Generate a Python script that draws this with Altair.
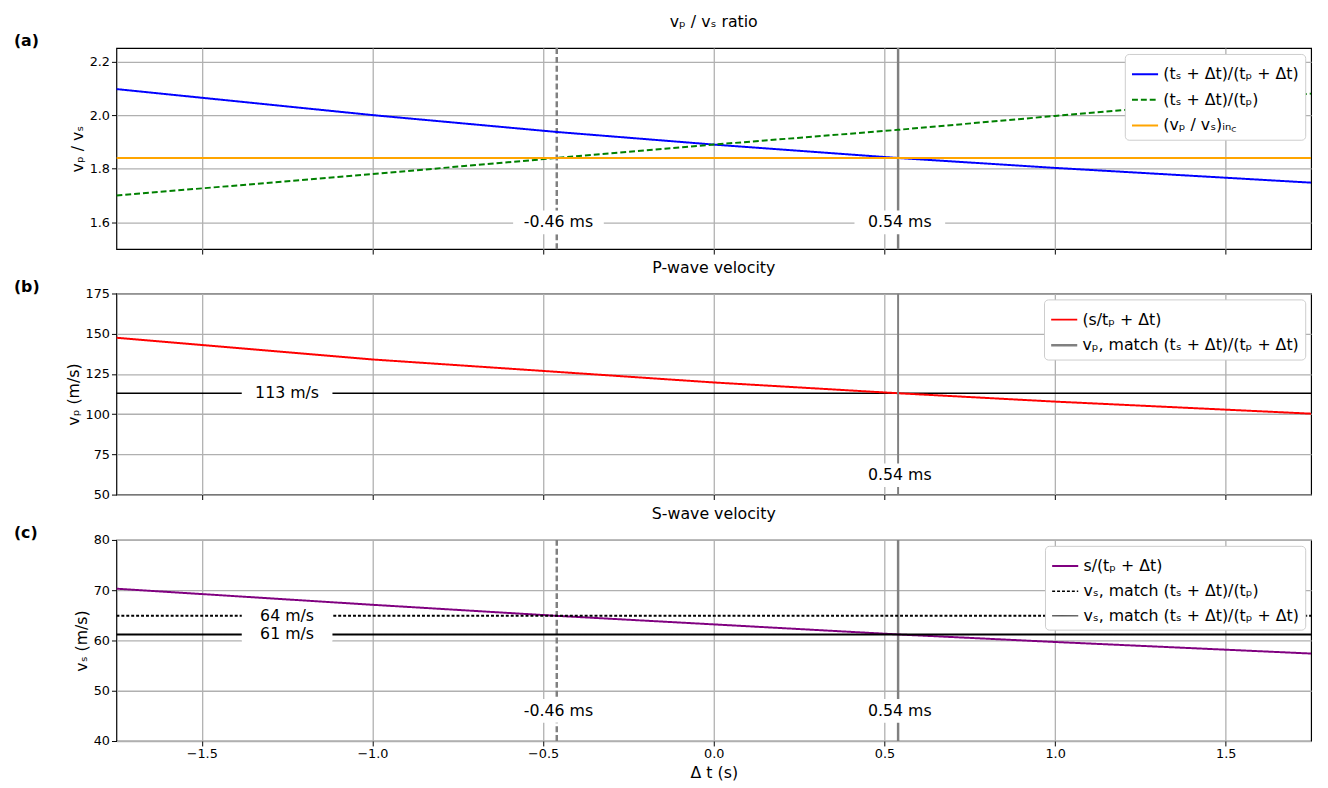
import altair as alt
import pandas as pd

X_RANGE = [-1.75, 1.75]
dt_pts = [-1.75, -1.0, -0.46, 0.0, 0.54, 1.0, 1.75]

# panel (a)
a_names = ["(tₛ + Δt)/(tₚ + Δt)", "(tₛ + Δt)/(tₚ)", "(vₚ / vₛ)ᵢₙ꜀"]
a_colors = ["#0000ff", "#008000", "#ffa500"]
a_dash = [[1, 0], [6, 3], [1, 0]]
a_vals = [
    [2.097, 2.0, 1.937, 1.89, 1.84, 1.803, 1.748],
    [1.70, 1.78, 1.84, 1.89, 1.945, 1.997, 2.08],
    [1.84, 1.84, 1.84, 1.84, 1.84, 1.84, 1.84],
]

# panel (b)
b_names = ["(s/tₚ + Δt)", "vₚ, match (tₛ + Δt)/(tₚ + Δt)"]
b_colors = ["#ff0000", "#808080"]
b_red = [147.5, 134.0, 126.3, 119.7, 113.0, 107.8, 100.3]
b_match = 113

# panel (c)
c_names = ["s/(tₚ + Δt)", "vₛ, match (tₛ + Δt)/(tₚ)", "vₛ, match (tₛ + Δt)/(tₚ + Δt)"]
c_colors = ["#800080", "#000000", "#000000"]
c_dash = [[1, 0], [3, 2], [1, 0]]
c_vals = [
    [70.3, 67.1, 64.9, 63.2, 61.2, 59.7, 57.4],
    [64.9] * 7,
    [61.2] * 7,
]

match_dt = [-0.46, 0.54]
match_txt = ["-0.46 ms", "0.54 ms"]

FONT = "DejaVu Sans"
W, H = 1212, 204


def lines_df(names, vals):
    rows = []
    for n, v in zip(names, vals):
        for x, y in zip(dt_pts, v):
            rows.append({"s": n, "x": x, "y": y})
    return pd.DataFrame(rows)


def xenc(show):
    return alt.X("x:Q", scale=alt.Scale(domain=X_RANGE, nice=False, zero=False),
                 axis=alt.Axis(values=[-1.5, -1.0, -0.5, 0.0, 0.5, 1.0, 1.5], format=".1f",
                               labels=show, title="Δ t (s)" if show else None))


def panel(df, names, colors, dashes, ydom, yticks, ytitle, tag):
    yscale = alt.Scale(domain=ydom, nice=False, zero=False)
    base = alt.Chart(df).mark_line(strokeWidth=2, clip=True).encode(
        x=xenc(tag == "(c)"),
        y=alt.Y("y:Q", scale=yscale, axis=alt.Axis(values=yticks, title=ytitle)),
        color=alt.Color("s:N", scale=alt.Scale(domain=names, range=colors), sort=names,
                        legend=alt.Legend(title=None, orient="top-right", fillColor="white",
                                          strokeColor="#cccccc", padding=6, labelFontSize=16,
                                          symbolType="stroke", symbolSize=700, symbolStrokeWidth=2,
                                          labelFont=FONT, cornerRadius=4, labelLimit=500,
                                          rowPadding=3, offset=6)),
        strokeDash=alt.StrokeDash("s:N", scale=alt.Scale(domain=names, range=dashes), sort=names,
                                  legend=None),
    )
    tagmark = alt.Chart(pd.DataFrame({"t": [tag]})).mark_text(
        fontWeight="bold", fontSize=16, font=FONT, align="left").encode(
        text="t:N", x=alt.value(-104), y=alt.value(-7))
    return base, tagmark, yscale


def boxed(yscale, xs, ys, texts):
    lab = pd.DataFrame({"x": xs, "y": ys, "t": texts})
    return [
        alt.Chart(lab).mark_rect(width=92, height=24, color="white", opacity=1,
                                 cornerRadius=6).encode(
            x="x:Q", y=alt.Y("y:Q", scale=yscale)),
        alt.Chart(lab).mark_text(fontSize=16, font=FONT).encode(
            x="x:Q", y=alt.Y("y:Q", scale=yscale), text="t:N"),
    ]


def vlines(yscale, ydom, which, ylab):
    layers = []
    styles = {-0.46: [6, 3], 0.54: [1, 0]}
    for dt in which:
        d = pd.DataFrame({"x": [dt, dt], "y": ydom})
        layers.append(alt.Chart(d).mark_line(color="#808080", strokeWidth=2.5,
                                             strokeDash=styles[dt]).encode(
            x="x:Q", y=alt.Y("y:Q", scale=yscale)))
    texts = [match_txt[match_dt.index(w)] for w in which]
    layers += boxed(yscale, [w + 0.005 for w in which], [ylab] * len(which), texts)
    return layers


# (a)
da = lines_df(a_names, a_vals)
ya = [1.5, 2.25]
la, ta, sa = panel(da, a_names, a_colors, a_dash, ya, [1.6, 1.8, 2.0, 2.2], "vₚ / vₛ", "(a)")
chart_a = alt.layer(*vlines(sa, ya, [-0.46, 0.54], 1.6), la, ta).properties(
    width=W, height=H, title="vₚ / vₛ ratio")

# (b)
db = lines_df(b_names[:1], [b_red])
db = pd.concat([db, pd.DataFrame({"s": [b_names[1]] * 2, "x": [0.54, 0.54], "y": [50, 175]})])
hdf = pd.DataFrame({"x": X_RANGE, "y": [b_match, b_match]})
yb = [50, 175]
lb, tb, sb = panel(db, b_names, b_colors, [[1, 0], [1, 0]], yb,
                   [50, 75, 100, 125, 150, 175], "vₚ (m/s)", "(b)")
lb = lb.encode(strokeWidth=alt.StrokeWidth("s:N", scale=alt.Scale(domain=b_names, range=[2, 2.5]),
                                           legend=None))
hb = alt.Chart(hdf).mark_line(color="black", strokeWidth=1.5).encode(
    x="x:Q", y=alt.Y("y:Q", scale=sb))
chart_b = alt.layer(hb, *boxed(sb, [-1.25], [b_match], ["113 m/s"]), lb,
                    *boxed(sb, [0.545], [62], ["0.54 ms"]), tb).properties(
    width=W, height=H, title="P-wave velocity")

# (c)
dc = lines_df(c_names, c_vals)
yc = [40, 80]
lc, tc, sc = panel(dc, c_names, c_colors, c_dash, yc, [40, 50, 60, 70, 80], "vₛ (m/s)", "(c)")
lc = lc.encode(strokeWidth=alt.StrokeWidth("s:N", scale=alt.Scale(domain=c_names, range=[2, 1, 1.5]),
                                           legend=None))
chart_c = alt.layer(*vlines(sc, yc, [-0.46, 0.54], 46), lc,
                    *boxed(sc, [-1.25, -1.25], [64.9, 61.2], ["64 m/s", "61 m/s"]),
                    tc).properties(width=W, height=H, title="S-wave velocity")

chart = alt.vconcat(chart_a, chart_b, chart_c, spacing=3).resolve_scale(
    color="independent", strokeDash="independent", strokeWidth="independent", y="independent"
).configure_view(stroke="black", strokeWidth=1.2).configure_axis(
    grid=True, gridColor="#b0b0b0", gridWidth=1.3, labelFont=FONT, titleFont=FONT,
    labelFontSize=13, titleFontSize=16, titleFontWeight="normal", labelColor="black",
    domain=False, tickColor="black", tickSize=5, titlePadding=4
).configure_title(font=FONT, fontSize=16, fontWeight="normal", offset=3).properties(
    padding={"top": 0, "left": 5, "right": 5, "bottom": 0})

chart.save("out.html", embed_options={"renderer": "svg", "actions": False})
